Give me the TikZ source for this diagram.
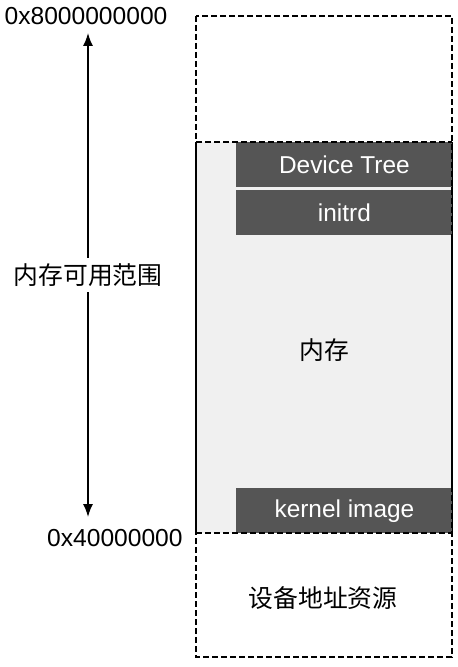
\documentclass[tikz,border=0pt]{standalone}
\usepackage{fontspec}
\setmainfont{Liberation Sans}
\newfontfamily\cjk{Noto Sans CJK SC}
\usetikzlibrary{calc,arrows.meta}
\definecolor{memgray}{HTML}{F0F0F0}
\definecolor{blockgray}{HTML}{555555}

\begin{document}
\begin{tikzpicture}[x=0.5pt,y=-0.5pt,region/.style={dash pattern=on 3pt off 1.5pt,line width=0.75pt},block/.style={fill=blockgray,text=white,minimum width=108pt,minimum height=22.5pt,inner sep=0pt,anchor=north west,font=\fontsize{12.2}{14}\selectfont},addr/.style={font=\fontsize{12.3}{14}\selectfont,inner sep=0pt},cjktext/.style={font=\cjk\fontsize{12.4}{15}\selectfont,inner sep=1pt},arrow/.style={{Latex[length=6.5pt,width=5pt]}-{Latex[length=6.5pt,width=5pt]},line width=0.75pt}]
  \useasboundingbox (0,0) rectangle (458,667);
  % memory region
  \fill[memgray] (196,142) rectangle (452,533);
  \draw[line width=0.75pt] (196,142) -- (196,533) (452,142) -- (452,533);
  \node[block] (dtb) at (236,142) {Device Tree};
  \node[block] (initrd) at ($ (dtb.south west) + (0,2) $) {initrd};
  \node[block] (kernel) at (236,488) {kernel image};
  \node[cjktext] (mem) at (324,350) {内存};
  % address space
  \draw[region] (196,16) rectangle (452,657);
  \draw[region] (196,142) -- (452,142);
  \draw[region] (196,533) -- (452,533);
  \node[cjktext] (dev) at (323,598) {设备地址资源};
  % range
  \node[addr] (top) at (86,16) {0x8000000000};
  \node[addr,anchor=east] (bottom) at (183,538) {0x40000000};
  \coordinate (hi) at (88,33);
  \coordinate (lo) at (88,517);
  \draw[arrow] (lo) -- node[cjktext,fill=white,inner sep=3pt] (range) {内存可用范围} (hi);
\end{tikzpicture}
\end{document}
